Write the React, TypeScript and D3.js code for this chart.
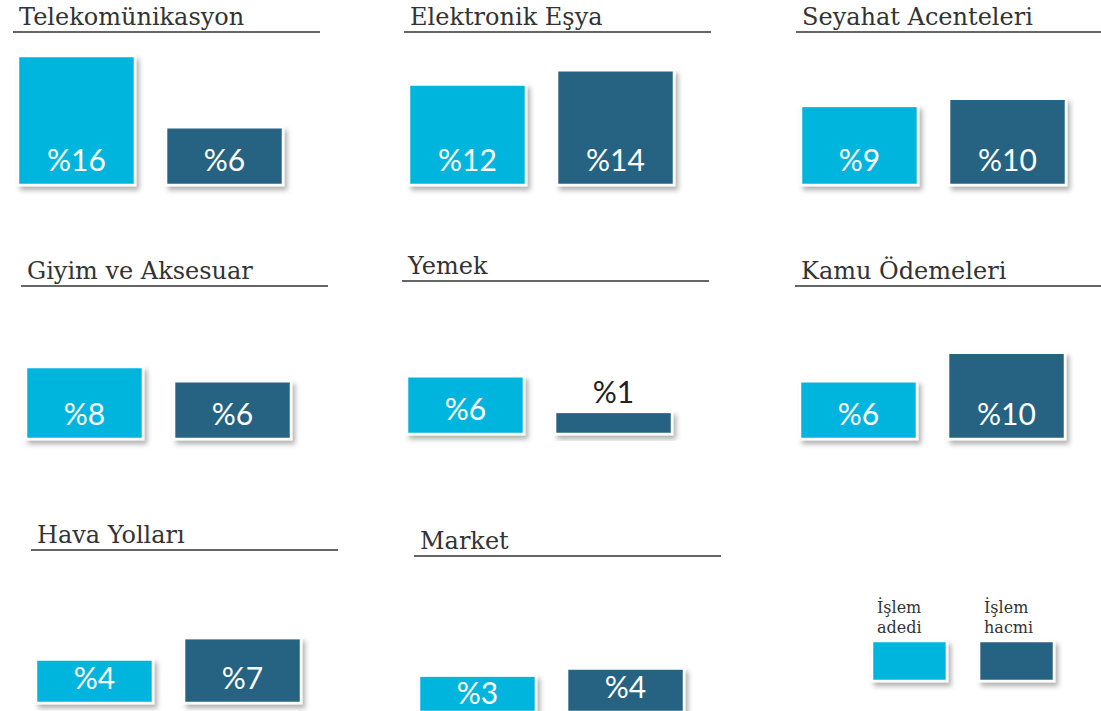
import React from "react";
import * as d3 from "d3";

const categories = [
  "Telekomünikasyon",
  "Elektronik Eşya",
  "Seyahat Acenteleri",
  "Giyim ve Aksesuar",
  "Yemek",
  "Kamu Ödemeleri",
  "Hava Yolları",
  "Market",
];
const islemAdedi = [16, 12, 9, 8, 6, 6, 4, 3];
const islemHacmi = [6, 14, 10, 6, 1, 10, 7, 4];
const seriesNames = ["İşlem adedi", "İşlem hacmi"];
const seriesLegendLines = [["İşlem", "adedi"], ["İşlem", "hacmi"]];

// panel layout (left edge of bar group, bar baseline, title underline y)
const panelLayout = [
  { x: 18, bottom: 185, ul: 32 },
  { x: 409, bottom: 185, ul: 32 },
  { x: 801, bottom: 185, ul: 32 },
  { x: 26, bottom: 439, ul: 286 },
  { x: 407, bottom: 434, ul: 281 },
  { x: 800, bottom: 439, ul: 286 },
  { x: 36, bottom: 703, ul: 550 },
  { x: 419, bottom: 712, ul: 556 },
];

const W = 1101;
const H = 711;
const COLORS = ["#02b5dd", "#276482"];
const TITLE_FONT = "'DejaVu Serif', serif";
const VALUE_FONT = "Lato, 'Open Sans', sans-serif";

const hScale = d3.scaleLinear().domain([0, 16]).range([15, 129]);

function Panel({ i }: { i: number }) {
  const L = panelLayout[i];
  const xb = d3
    .scaleBand<number>()
    .domain([0, 1])
    .range([L.x, L.x + 265])
    .paddingInner(0.21)
    .paddingOuter(0);
  const vals = [islemAdedi[i], islemHacmi[i]];
  return (
    <g>
      <text
        x={L.x + 1}
        y={L.ul - 7}
        fontFamily={TITLE_FONT}
        fontSize={24}
        fill="#333"
      >
        {categories[i]}
      </text>
      <line
        x1={L.x - 5}
        x2={L.x + 302}
        y1={L.ul}
        y2={L.ul}
        stroke="#333"
        strokeWidth={1.5}
      />
      {vals.map((v, k) => {
        const h = hScale(v);
        const x = xb(k)!;
        const bw = xb.bandwidth();
        const top = L.bottom - h;
        const inside = h >= 30;
        const yText = inside ? Math.max(L.bottom - 14, top + 28) : top - 9;
        return (
          <g key={k}>
            <rect
              x={x}
              y={top}
              width={bw}
              height={h}
              fill={COLORS[k]}
              stroke="#fff"
              strokeWidth={2.5}
              filter="url(#shadow)"
            />
            <text
              x={x + bw / 2}
              y={yText}
              textAnchor="middle"
              fontFamily={VALUE_FONT}
              fontSize={30}
              fill={inside ? "#fff" : "#222"}
            >
              {"%" + v}
            </text>
          </g>
        );
      })}
    </g>
  );
}

export default function App() {
  const legendX = d3
    .scaleBand<number>()
    .domain([0, 1])
    .range([872, 1054])
    .paddingInner(0.3)
    .paddingOuter(0);
  return (
    <svg
      width={W}
      height={H}
      viewBox={`0 0 ${W} ${H}`}
      style={{ position: "absolute", left: 0, top: 0, display: "block", background: "#fff" }}
    >
      <defs>
        <filter id="shadow" x="-20%" y="-20%" width="150%" height="150%">
          <feDropShadow dx={3} dy={4} stdDeviation={2.5} floodColor="#000" floodOpacity={0.3} />
        </filter>
      </defs>
      <rect x={0} y={0} width={W} height={H} fill="#fff" />
      {categories.map((_, i) => (
        <Panel key={i} i={i} />
      ))}
      <g>
        {seriesNames.map((name, k) => {
          const x = legendX(k)!;
          const bw = legendX.bandwidth();
          return (
            <g key={name}>
              {seriesLegendLines[k].map((ln, j) => (
                <text
                  key={j}
                  x={x + 5}
                  y={613 + j * 20}
                  fontFamily={TITLE_FONT}
                  fontSize={16}
                  fill="#333"
                >
                  {ln}
                </text>
              ))}
              <rect
                x={x}
                y={641}
                width={bw}
                height={40}
                fill={COLORS[k]}
                stroke="#fff"
                strokeWidth={2.5}
                filter="url(#shadow)"
              />
            </g>
          );
        })}
      </g>
    </svg>
  );
}
